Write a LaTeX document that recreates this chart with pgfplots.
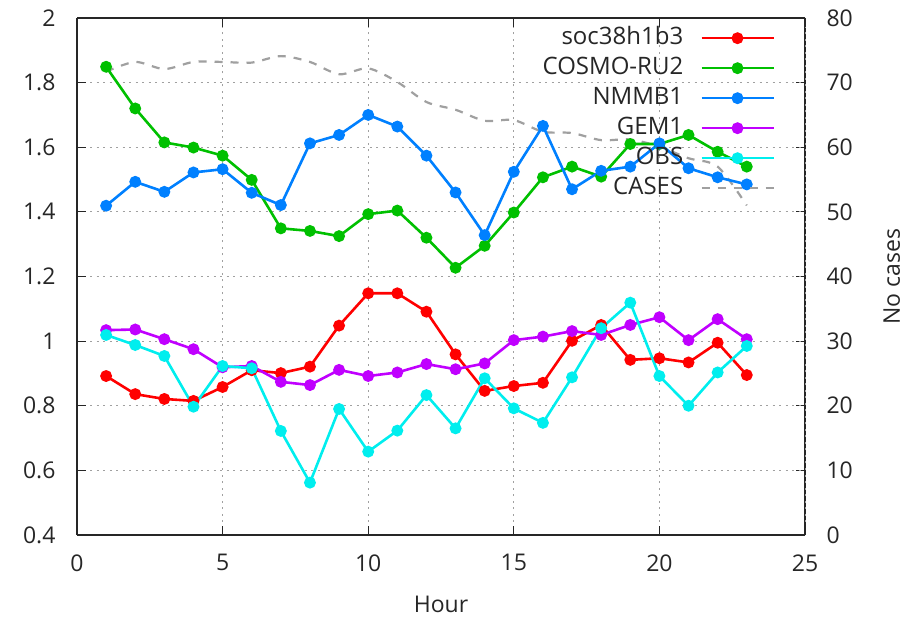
\documentclass[border=0pt]{standalone}
\usepackage{pgfplots}
\pgfplotsset{compat=1.18}
\usepackage{fontspec}
\setmainfont{Open Sans}
\definecolor{gpred}{HTML}{FF0000}
\definecolor{gpgreen}{HTML}{00C000}
\definecolor{gpblue}{HTML}{0080FF}
\definecolor{gppurple}{HTML}{C000FF}
\definecolor{gpcyan}{HTML}{00EEEE}
\definecolor{gpgray}{HTML}{A0A0A0}
\definecolor{txt}{HTML}{262626}
\begin{document}
\begin{tikzpicture}
\pgfplotsset{
  every axis/.append style={
    scale only axis, width=728pt, height=517pt,
    font=\fontsize{23}{27}\selectfont, text=txt,
    /pgf/number format/assume math mode=true,
    axis line style={line width=1.2pt, black!85},
    major tick length=9pt,
    every tick/.style={black!85, line width=1pt},
    xmin=0, xmax=25,
  },
  gpline/.style={line width=2.6pt, mark=*, mark size=4.6pt},
}
% right axis: cases
\begin{axis}[
  axis x line=none, axis y line*=right,
  ymin=0, ymax=80, ytick={0,10,...,80},
  ylabel={No cases},
  yticklabel style={xshift=18pt},
  ylabel style={inner sep=0pt, yshift=-27pt},
]
\addplot[gpgray, line width=2.2pt, dash pattern=on 8pt off 8pt, smooth] coordinates {
(1,71.7)(2,73.2)(3,72.1)(4,73.2)(5,73.2)(6,73.1)(7,74.1)(8,73.2)(9,71.3)(10,72.2)
(11,70.1)(12,67.0)(13,65.8)(14,64.1)(15,64.2)(16,62.4)(17,62.2)(18,61.1)(19,61.2)
(20,60.1)(21,58.3)(22,57.0)(23,51.0)};
\end{axis}
\begin{axis}[
  axis y line*=left, axis x line*=box,
  ymin=0.4, ymax=2, ytick={0.4,0.6,...,2.01},
  xtick={0,5,...,25},
  grid=major,
  major grid style={gpgray, line width=1pt, dash pattern=on 2pt off 4.5pt},
  xlabel={Hour},
  xticklabel style={yshift=-16pt},
  yticklabel style={xshift=-18pt},
  xlabel style={inner sep=0pt, yshift=-21pt},
  legend plot pos=right,
  legend cell align=right,
  legend style={draw=none, fill=none, at={(1,1)}, anchor=north east,
    xshift=-27pt, yshift=-3pt, row sep=0pt, column sep=5pt,
    font=\fontsize{24}{28}\selectfont,
    nodes={inner xsep=12pt, inner ysep=4pt, text height=17pt, text depth=5pt}},
  legend image code/.code={
    \draw[mark repeat=2, mark phase=2, #1] plot coordinates {(0pt,0pt) (36pt,0pt) (72pt,0pt)};},
]
\addplot[gpline, gpred] coordinates {
(1,0.892)(2,0.836)(3,0.821)(4,0.815)(5,0.858)(6,0.910)(7,0.901)(8,0.921)(9,1.048)(10,1.148)
(11,1.148)(12,1.091)(13,0.959)(14,0.846)(15,0.861)(16,0.871)(17,1.001)(18,1.050)(19,0.942)
(20,0.947)(21,0.934)(22,0.995)(23,0.895)};
\addlegendentry{soc38h1b3}
\addplot[gpline, gpgreen] coordinates {
(1,1.849)(2,1.720)(3,1.615)(4,1.599)(5,1.574)(6,1.499)(7,1.349)(8,1.341)(9,1.325)(10,1.393)
(11,1.404)(12,1.320)(13,1.227)(14,1.295)(15,1.398)(16,1.507)(17,1.540)(18,1.509)(19,1.610)
(20,1.610)(21,1.638)(22,1.586)(23,1.540)};
\addlegendentry{COSMO-RU2}
\addplot[gpline, gpblue] coordinates {
(1,1.419)(2,1.493)(3,1.462)(4,1.522)(5,1.532)(6,1.459)(7,1.421)(8,1.612)(9,1.638)(10,1.700)
(11,1.664)(12,1.574)(13,1.460)(14,1.328)(15,1.524)(16,1.666)(17,1.470)(18,1.527)(19,1.540)
(20,1.612)(21,1.535)(22,1.507)(23,1.485)};
\addlegendentry{NMMB1}
\addplot[gpline, gppurple] coordinates {
(1,1.034)(2,1.036)(3,1.006)(4,0.975)(5,0.919)(6,0.923)(7,0.874)(8,0.864)(9,0.911)(10,0.892)
(11,0.903)(12,0.929)(13,0.913)(14,0.931)(15,1.003)(16,1.014)(17,1.031)(18,1.019)(19,1.050)
(20,1.074)(21,1.003)(22,1.068)(23,1.006)};
\addlegendentry{GEM1}
\addplot[gpline, gpcyan] coordinates {
(1,1.019)(2,0.988)(3,0.954)(4,0.797)(5,0.923)(6,0.916)(7,0.722)(8,0.562)(9,0.790)(10,0.658)
(11,0.723)(12,0.833)(13,0.730)(14,0.885)(15,0.792)(16,0.747)(17,0.888)(18,1.040)(19,1.119)
(20,0.892)(21,0.800)(22,0.903)(23,0.985)};
\addlegendentry{OBS}
\addlegendimage{gpgray, line width=2.2pt, dash pattern=on 8pt off 8pt}
\addlegendentry{CASES}
\end{axis}
\pgfresetboundingbox
\path[use as bounding box] ([shift={(-77pt,-85pt)}]current axis.south west) rectangle ([shift={(103pt,18pt)}]current axis.north east);
\end{tikzpicture}
\end{document}
